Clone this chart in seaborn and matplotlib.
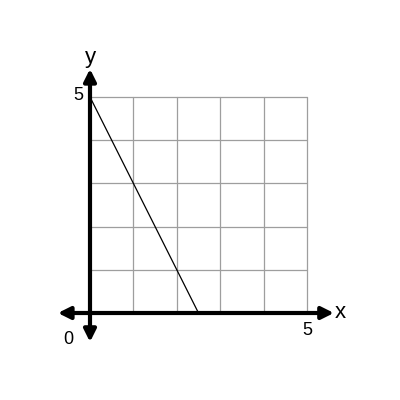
import matplotlib
matplotlib.use("Agg")
import matplotlib.pyplot as plt
import seaborn as sns
import pandas as pd

sns.set_style("white")
plt.rcParams['font.family'] = ['Liberation Sans', 'DejaVu Sans']
plt.rcParams['text.color'] = 'black'

grid_ticks = [0, 1, 2, 3, 4, 5]
line_x = [0, 2.5]
line_y = [5, 0]
df = pd.DataFrame({"x": line_x, "y": line_y})

fig = plt.figure(figsize=(4, 4), dpi=100)
ax = fig.add_axes([0, 0, 1, 1])
sx = 43.4
sy = 43.2
ax.set_xlim(-90 / sx, (400 - 90) / sx)
ax.set_ylim(-(400 - 313) / sy, 313 / sy)
ax.axis("off")

# grid
for t in grid_ticks:
    ax.plot([t, t], [0, 5], color="#9e9e9e", lw=0.9, zorder=1)
    ax.plot([0, 5], [t, t], color="#9e9e9e", lw=0.9, zorder=1)

sns.lineplot(data=df, x="x", y="y", color="black", lw=0.9, ax=ax, zorder=3)

# axes arrows
ap = dict(arrowstyle="<|-|>", lw=3, color="black", mutation_scale=18,
          shrinkA=0, shrinkB=0)
ax.annotate("", xy=(5.62, 0), xytext=(-0.74, 0), arrowprops=ap, zorder=4)
ax.annotate("", xy=(0, 5.65), xytext=(0, -0.67), arrowprops=ap, zorder=4)

ax.text(5.64, 0.02, "x", fontsize=16, ha="left", va="center", color="black")
ax.text(0.02, 5.66, "y", fontsize=16, ha="center", va="bottom", color="black")
ax.text(-0.16, 5.03, "5", fontsize=13, ha="right", va="center", color="black")
ax.text(5.0, -0.2, "5", fontsize=13, ha="center", va="top", color="black")
ax.text(-0.5, -0.42, "0", fontsize=13, ha="center", va="top", color="black")

fig.savefig("out.png", dpi=100, facecolor="white")
